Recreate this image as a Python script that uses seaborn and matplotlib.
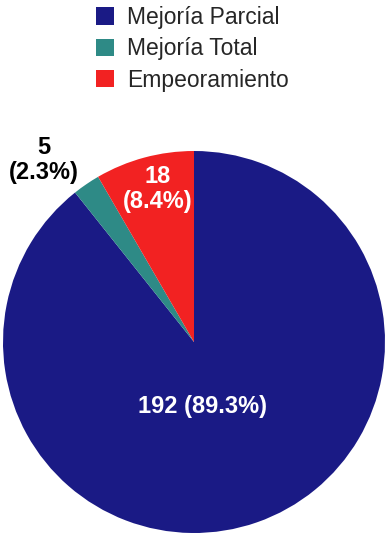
import matplotlib
matplotlib.use("Agg")
import matplotlib.pyplot as plt
import seaborn as sns
import numpy as np

sns.set_theme(style="white")
plt.rcParams['font.family'] = ['Liberation Sans', 'DejaVu Sans']

categories = ["Mejoría Parcial", "Mejoría Total", "Empeoramiento"]
counts = [192, 5, 18]
percents = [89.3, 2.3, 8.4]
colors = ["#1a1a85", "#2e8a86", "#f22222"]
label_colors = ["white", "black", "white"]

W, H = 388, 536
fig = plt.figure(figsize=(W / 100, H / 100), dpi=100)
cx, cy, r = 194, 342, 191
ax = fig.add_axes([(cx - r) / W, (H - cy - r) / H, 2 * r / W, 2 * r / H])

wedges, _ = ax.pie(counts, colors=colors, startangle=90, counterclock=False,
                   wedgeprops=dict(linewidth=0))
ax.set_xlim(-1, 1)
ax.set_ylim(-1, 1)
ax.set_aspect("equal")
ax.axis("off")

# label positions (data units, radius 1)
label_pos = [(0.047, -0.34), (-0.785, 0.955), (-0.188, 0.8)]
for i, (x, y) in enumerate(label_pos):
    if i == 0:
        txt = f"{counts[i]} ({percents[i]}%)"
    else:
        txt = f"{counts[i]}\n({percents[i]}%)"
    ax.text(x, y, txt, ha="center", va="center", color=label_colors[i],
            fontsize=17, fontweight="bold", linespacing=1.12, clip_on=False)

leg = fig.legend(wedges, categories, loc="upper left",
                 bbox_to_anchor=(96 / W, 1 - 6 / H), frameon=False,
                 fontsize=16.5, handlelength=0.8, handleheight=0.8,
                 handletextpad=0.55, labelspacing=0.36, borderpad=0,
                 borderaxespad=0)

fig.savefig("out.png", dpi=100)
